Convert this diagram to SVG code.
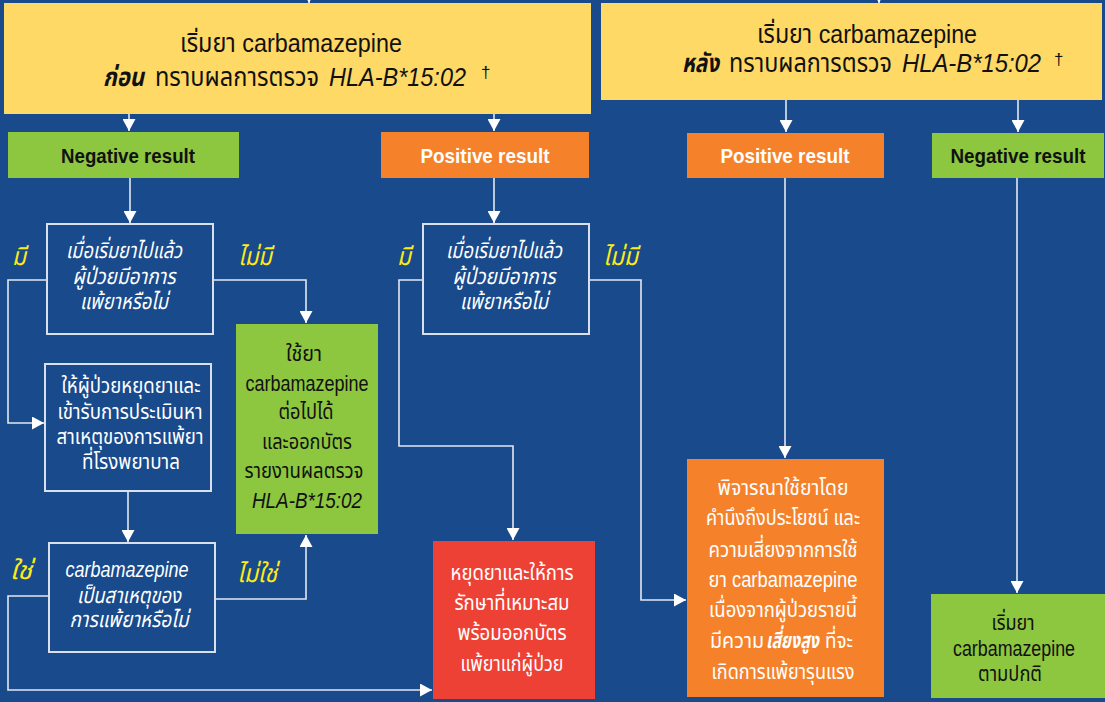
<svg xmlns="http://www.w3.org/2000/svg" width="1105" height="702" viewBox="0 0 1105 702">
<defs>
<style>
text{font-family:'Liberation Sans','Noto Sans Thai','Noto Sans','DejaVu Sans',sans-serif;}
.hd{font-size:26px;fill:#111;text-anchor:middle;}
.res{font-size:21px;font-weight:bold;text-anchor:middle;}
.w{fill:#fff;}
.k{fill:#111;}
.b{font-size:22px;text-anchor:middle;}
.s{text-anchor:start;}
.it{font-style:italic;}
.bi{font-weight:bold;font-style:italic;}
.lab{font-size:25px;font-style:italic;fill:#FFEB14;}
.dag{font-size:17px;fill:#111;}
.dec{fill:none;stroke:#D9DFEB;stroke-width:2;}
.con{fill:none;stroke:#E4E8F0;stroke-width:1.6;}
</style>
<marker id="ah" markerUnits="userSpaceOnUse" markerWidth="13" markerHeight="13" refX="12" refY="6.5" orient="auto">
<path d="M0,0 L12,6.5 L0,13 z" fill="#fff"/>
</marker>
</defs>
<rect x="0" y="0" width="1105" height="702" fill="#184A8C"/>

<g id="connectors" class="con" marker-end="url(#ah)">
<path d="M309,-20 V3"/>
<path d="M879,-20 V3"/>
<path d="M129,114 V131"/>
<path d="M494,114 V131"/>
<path d="M786,100 V132"/>
<path d="M1018,100 V132"/>
<path d="M130,178 V223"/>
<path d="M494,178 V223"/>
<path d="M47,280 H8 V423 H44"/>
<path d="M213,280 H306 V323"/>
<path d="M128,491 V542"/>
<path d="M215,599 H306 V535"/>
<path d="M49,596 H8 V690 H432"/>
<path d="M423,280 H399 V446 H513 V540"/>
<path d="M589,280 H641 V600 H686"/>
<path d="M785,178 V458"/>
<path d="M1017,178 V593"/>
</g>

<g id="start-before">
<rect x="4" y="3" width="587" height="111" fill="#FFD966"/>
<text class="hd" x="291" y="52" textLength="222" lengthAdjust="spacingAndGlyphs">เริ่มยา carbamazepine</text>
<text class="hd s bi" x="103" y="86" textLength="41" lengthAdjust="spacingAndGlyphs">ก่อน</text>
<text class="hd s" x="155" y="86" textLength="164" lengthAdjust="spacingAndGlyphs">ทราบผลการตรวจ</text>
<text class="hd s it" x="329" y="86" textLength="137" lengthAdjust="spacingAndGlyphs">HLA-B*15:02</text>
<text class="dag" x="481" y="78">†</text>
</g>

<g id="start-after">
<rect x="601" y="3" width="501" height="97" fill="#FFD966"/>
<text class="hd" x="867" y="43" textLength="220" lengthAdjust="spacingAndGlyphs">เริ่มยา carbamazepine</text>
<text class="hd s bi" x="682" y="72" textLength="37" lengthAdjust="spacingAndGlyphs">หลัง</text>
<text class="hd s" x="729" y="72" textLength="163" lengthAdjust="spacingAndGlyphs">ทราบผลการตรวจ</text>
<text class="hd s it" x="902" y="72" textLength="139" lengthAdjust="spacingAndGlyphs">HLA-B*15:02</text>
<text class="dag" x="1054" y="65">†</text>
</g>

<g id="neg-left">
<rect x="8" y="132" width="231" height="46" fill="#8DC63F"/>
<text class="res k" x="128" y="163" textLength="134" lengthAdjust="spacingAndGlyphs">Negative result</text>
</g>

<g id="pos-left">
<rect x="381" y="132" width="208" height="46" fill="#F5822A"/>
<text class="res w" x="485" y="163" textLength="129" lengthAdjust="spacingAndGlyphs">Positive result</text>
</g>

<g id="pos-right">
<rect x="687" y="133" width="197" height="45" fill="#F5822A"/>
<text class="res w" x="785" y="163" textLength="129" lengthAdjust="spacingAndGlyphs">Positive result</text>
</g>

<g id="neg-right">
<rect x="932" y="133" width="172" height="45" fill="#8DC63F"/>
<text class="res k" x="1018" y="163" textLength="135" lengthAdjust="spacingAndGlyphs">Negative result</text>
</g>

<g id="dec-neg">
<rect class="dec" x="47" y="224" width="166" height="110"/>
<text class="b w it" x="124" y="258" textLength="116" lengthAdjust="spacingAndGlyphs">เมื่อเริ่มยาไปแล้ว</text>
<text class="b w it" x="124" y="284" textLength="103" lengthAdjust="spacingAndGlyphs">ผู้ป่วยมีอาการ</text>
<text class="b w it" x="124" y="309" textLength="88" lengthAdjust="spacingAndGlyphs">แพ้ยาหรือไม่</text>
</g>

<g id="dec-pos">
<rect class="dec" x="423" y="224" width="166" height="110"/>
<text class="b w it" x="504" y="258" textLength="116" lengthAdjust="spacingAndGlyphs">เมื่อเริ่มยาไปแล้ว</text>
<text class="b w it" x="504" y="284" textLength="103" lengthAdjust="spacingAndGlyphs">ผู้ป่วยมีอาการ</text>
<text class="b w it" x="504" y="309" textLength="88" lengthAdjust="spacingAndGlyphs">แพ้ยาหรือไม่</text>
</g>

<g id="labels">
<text class="lab" x="12" y="265" textLength="14" lengthAdjust="spacingAndGlyphs">มี</text>
<text class="lab" x="238" y="265" textLength="34" lengthAdjust="spacingAndGlyphs">ไม่มี</text>
<text class="lab" x="10" y="579" textLength="22" lengthAdjust="spacingAndGlyphs">ใช่</text>
<text class="lab" x="237" y="582" textLength="40" lengthAdjust="spacingAndGlyphs">ไม่ใช่</text>
<text class="lab" x="397" y="265" textLength="14" lengthAdjust="spacingAndGlyphs">มี</text>
<text class="lab" x="603" y="265" textLength="35" lengthAdjust="spacingAndGlyphs">ไม่มี</text>
</g>

<g id="stop-eval">
<rect class="dec" x="45" y="364" width="166" height="127"/>
<text class="b w" x="131" y="393" textLength="139" lengthAdjust="spacingAndGlyphs">ให้ผู้ป่วยหยุดยาและ</text>
<text class="b w" x="130" y="419" textLength="145" lengthAdjust="spacingAndGlyphs">เข้ารับการประเมินหา</text>
<text class="b w" x="130" y="444" textLength="147" lengthAdjust="spacingAndGlyphs">สาเหตุของการแพ้ยา</text>
<text class="b w" x="131" y="469" textLength="98" lengthAdjust="spacingAndGlyphs">ที่โรงพยาบาล</text>
</g>

<g id="dec-cause">
<rect class="dec" x="49" y="543" width="166" height="109"/>
<text class="b w it" x="127" y="577" textLength="123" lengthAdjust="spacingAndGlyphs">carbamazepine</text>
<text class="b w it" x="129" y="603" textLength="104" lengthAdjust="spacingAndGlyphs">เป็นสาเหตุของ</text>
<text class="b w it" x="129" y="627" textLength="119" lengthAdjust="spacingAndGlyphs">การแพ้ยาหรือไม่</text>
</g>

<g id="continue">
<rect x="236" y="324" width="142" height="210" fill="#8DC63F"/>
<text class="b k" x="304" y="361" textLength="36" lengthAdjust="spacingAndGlyphs">ใช้ยา</text>
<text class="b k" x="307" y="391" textLength="123" lengthAdjust="spacingAndGlyphs">carbamazepine</text>
<text class="b k" x="306" y="419" textLength="55" lengthAdjust="spacingAndGlyphs">ต่อไปได้</text>
<text class="b k" x="307" y="449" textLength="90" lengthAdjust="spacingAndGlyphs">และออกบัตร</text>
<text class="b k" x="304" y="478" textLength="119" lengthAdjust="spacingAndGlyphs">รายงานผลตรวจ</text>
<text class="b k it" x="307" y="508" textLength="110" lengthAdjust="spacingAndGlyphs">HLA-B*15:02</text>
</g>

<g id="stop-treat">
<rect x="433" y="541" width="162" height="158" fill="#EE4136"/>
<text class="b w" x="512" y="580" textLength="123" lengthAdjust="spacingAndGlyphs">หยุดยาและให้การ</text>
<text class="b w" x="512" y="610" textLength="115" lengthAdjust="spacingAndGlyphs">รักษาที่เหมาะสม</text>
<text class="b w" x="512" y="640" textLength="109" lengthAdjust="spacingAndGlyphs">พร้อมออกบัตร</text>
<text class="b w" x="512" y="671" textLength="103" lengthAdjust="spacingAndGlyphs">แพ้ยาแก่ผู้ป่วย</text>
</g>

<g id="consider">
<rect x="687" y="459" width="197" height="238" fill="#F5822A"/>
<text class="b w" x="783" y="495" textLength="131" lengthAdjust="spacingAndGlyphs">พิจารณาใช้ยาโดย</text>
<text class="b w" x="783" y="525" textLength="154" lengthAdjust="spacingAndGlyphs">คำนึงถึงประโยชน์ และ</text>
<text class="b w" x="783" y="557" textLength="149" lengthAdjust="spacingAndGlyphs">ความเสี่ยงจากการใช้</text>
<text class="b w" x="783" y="587" textLength="149" lengthAdjust="spacingAndGlyphs">ยา carbamazepine</text>
<text class="b w" x="783" y="617" textLength="148" lengthAdjust="spacingAndGlyphs">เนื่องจากผู้ป่วยรายนี้</text>
<text class="b w s" x="710" y="648" textLength="54" lengthAdjust="spacingAndGlyphs">มีความ</text>
<text class="b w s bi" x="766" y="648" textLength="53" lengthAdjust="spacingAndGlyphs">เสี่ยงสูง</text>
<text class="b w s" x="825" y="648" textLength="28" lengthAdjust="spacingAndGlyphs">ที่จะ</text>
<text class="b w" x="783" y="679" textLength="143" lengthAdjust="spacingAndGlyphs">เกิดการแพ้ยารุนแรง</text>
</g>

<g id="start-normal">
<rect x="931" y="594" width="174" height="104" fill="#8DC63F"/>
<text class="b k" x="1013" y="630" textLength="43" lengthAdjust="spacingAndGlyphs">เริ่มยา</text>
<text class="b k" x="1014" y="656" textLength="122" lengthAdjust="spacingAndGlyphs">carbamazepine</text>
<text class="b k" x="1010" y="681" textLength="64" lengthAdjust="spacingAndGlyphs">ตามปกติ</text>
</g>
</svg>
